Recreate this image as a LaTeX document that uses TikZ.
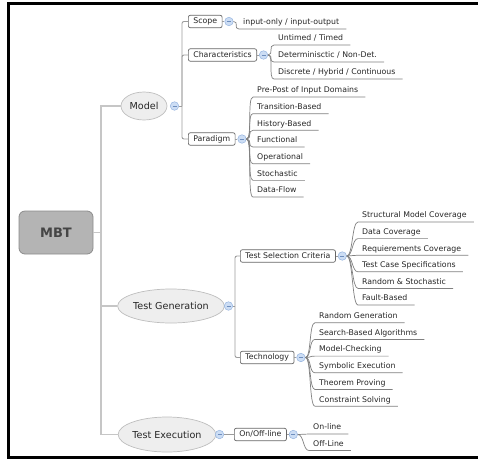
\documentclass[tikz,border=0pt]{standalone}
\usepackage{fontspec}
\setmainfont{DejaVu Sans}
\usetikzlibrary{shapes.geometric}
\definecolor{trunkc}{HTML}{C6C6C6}
\definecolor{branchc}{HTML}{9C9C9C}
\definecolor{twigc}{HTML}{808080}
\definecolor{boxline}{HTML}{666666}
\definecolor{txt}{HTML}{262626}
\definecolor{ellfill}{HTML}{EEEEEE}
\definecolor{ellline}{HTML}{BEBEBE}
\definecolor{rootfill}{HTML}{B4B4B4}
\definecolor{rootline}{HTML}{8C8C8C}
\definecolor{roottext}{HTML}{454545}
\definecolor{togfill}{HTML}{CCDDF4}
\definecolor{togline}{HTML}{95B4DF}
\definecolor{togminus}{HTML}{6E8EBE}
\begin{document}
\begin{tikzpicture}[x=1pt,y=-1pt,
  every node/.style={font=\fontsize{7.8}{9}\selectfont, text=txt},
  root/.style={draw=rootline, fill=rootfill, rounded corners=6pt, line width=0.8pt,
    minimum width=74pt, minimum height=43pt, inner sep=0pt,
    font=\fontsize{13}{15}\selectfont\bfseries, text=roottext},
  topic/.style={ellipse, draw=ellline, fill=ellfill, line width=0.7pt, inner sep=0pt,
    font=\fontsize{9.6}{11}\selectfont, text=txt},
  sub/.style={draw=boxline, fill=white, rounded corners=2pt, line width=0.7pt,
    inner xsep=5pt, inner ysep=0pt, minimum height=12.5pt, anchor=west,
    text height=6pt, text depth=1.8pt},
  leaf/.style={anchor=south west, inner xsep=4pt, inner ysep=2pt,
    text height=6pt, text depth=2pt},
  toggle/.style={circle, draw=togline, fill=togfill, line width=0.5pt,
    minimum size=8.5pt, inner sep=0pt,
    path picture={\draw[togminus, line width=0.6pt]
      ([xshift=-2pt]path picture bounding box.center) --
      ([xshift=2pt]path picture bounding box.center);}},
  trunk/.style={draw=trunkc, line width=1.1pt},
  branch/.style={draw=branchc, line width=0.9pt, rounded corners=2pt},
  twig/.style={draw=twigc, line width=0.7pt},
  fan/.style={twig, out=0, in=180, out distance=6pt, in distance=6pt}
]
\useasboundingbox (0,0) rectangle (478,461);
\clip (0,0) rectangle (478,461);

% outer frame (top, left and bottom edges)
\draw[line width=3.5pt, black] (483,3.5) -- (8.5,3.5) -- (8.5,457.5) -- (483,457.5);

% root and main topics
\node[root] (mbt) at (56,232.5) {MBT};
\node[topic, minimum width=46pt, minimum height=28pt] (model) at (144,106) {Model};
\node[topic, minimum width=98pt, minimum height=34pt] (tgen) at (171,306) {Test Generation};
\node[topic, minimum width=92pt, minimum height=35pt] (texec) at (167,434.5) {Test Execution};

\coordinate (tk) at (101,232.5);
\draw[trunk] (mbt.east) -- (tk);
\draw[trunk] (tk) |- (model.west);
\draw[trunk] (tk) |- (tgen.west);
\draw[trunk] (tk) |- (texec.west);

\node[toggle] (mtog) at (174.5,106) {};
\node[toggle] (gtog) at (228.5,306) {};
\node[toggle] (etog) at (219.5,434.5) {};

% Model subtopics
\node[sub] (scope) at (188,21.5) {Scope};
\node[sub] (chars) at (188,55) {Characteristics};
\node[sub] (para) at (188,139) {Paradigm};
\coordinate (ms) at (182,106);
\draw[branch] (mtog.east) -- (ms);
\draw[branch] (ms) |- (scope.west);
\draw[branch] (ms) |- (chars.west);
\draw[branch] (ms) |- (para.west);

% Test Generation subtopics
\node[sub] (tsc) at (240,256) {Test Selection Criteria};
\node[sub] (tech) at (240,357.5) {Technology};
\coordinate (gs) at (235,306);
\draw[branch] (gtog.east) -- (gs);
\draw[branch] (gs) |- (tsc.west);
\draw[branch] (gs) |- (tech.west);

% Test Execution subtopic
\node[sub] (onoff) at (234,434.5) {On/Off-line};
\draw[branch] (etog.east) -- (onoff.west);

% toggles beside the subtopic boxes
\foreach \b in {scope,chars,para,tsc,tech,onoff}{
  \node[toggle] (\b tog) at ([xshift=6.5pt]\b.east) {};
  \draw[branch] (\b.east) -- (\b tog.west);
}

% leaves
\node[leaf] (sc1) at (239,29) {input-only / input-output};
\draw[fan] (scopetog.east) to (sc1.south west) -- ([xshift=3pt]sc1.south east);

\foreach \t [count=\i] in {Untimed / Timed, Determinisctic / Non-Det., Discrete / Hybrid / Continuous}{
  \node[leaf] (ch\i) at (274,{45+(\i-1)*17}) {\t};
  \draw[fan] (charstog.east) to (ch\i.south west) -- ([xshift=3pt]ch\i.south east);
}

\foreach \t [count=\i] in {Pre-Post of Input Domains, Transition-Based, History-Based,
    Functional, Operational, Stochastic, Data-Flow}{
  \node[leaf] (pa\i) at (253,{97+(\i-1)*16.67}) {\t};
  \draw[fan] (paratog.east) to (pa\i.south west) -- ([xshift=3pt]pa\i.south east);
}

\foreach \t [count=\i] in {Structural Model Coverage, Data Coverage, Requierements Coverage,
    Test Case Specifications, Random \& Stochastic, Fault-Based}{
  \node[leaf] (ts\i) at (358,{222+(\i-1)*16.6}) {\t};
  \draw[fan] (tsctog.east) to (ts\i.south west) -- ([xshift=3pt]ts\i.south east);
}

\foreach \t [count=\i] in {Random Generation, Search-Based Algorithms, Model-Checking,
    Symbolic Execution, Theorem Proving, Constraint Solving}{
  \node[leaf] (te\i) at (315,{322.7+(\i-1)*16.7}) {\t};
  \draw[fan] (techtog.east) to (te\i.south west) -- ([xshift=3pt]te\i.south east);
}

\foreach \t [count=\i] in {On-line, Off-Line}{
  \node[leaf] (on\i) at (309,{434+(\i-1)*16.5}) {\t};
  \draw[fan] (onofftog.east) to (on\i.south west) -- ([xshift=3pt]on\i.south east);
}
\end{tikzpicture}
\end{document}
